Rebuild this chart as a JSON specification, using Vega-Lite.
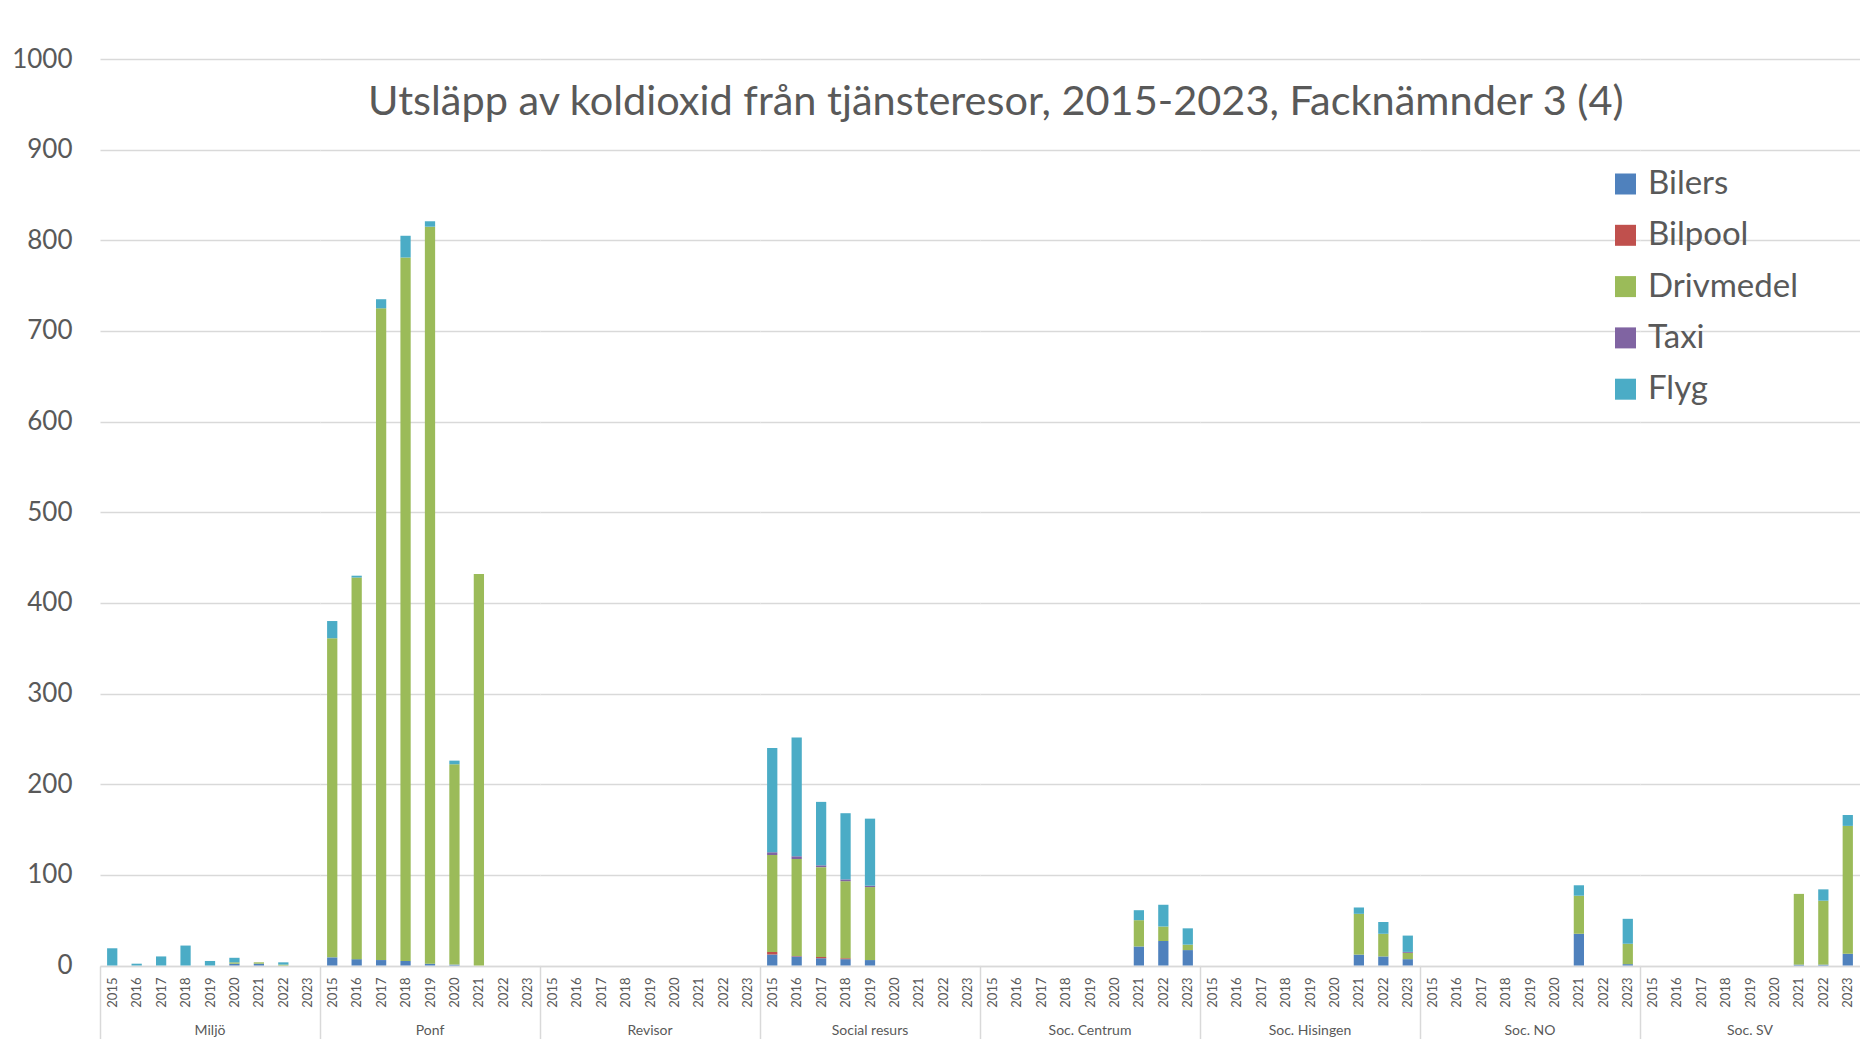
{
  "$schema": "https://vega.github.io/schema/vega-lite/v6.json",
  "padding": {"left": 11, "top": 46, "right": 0, "bottom": 0},
  "background": "white",
  "title": {"text": "Utsläpp av koldioxid från tjänsteresor, 2015-2023, Facknämnder 3 (4)", "fontSize": 41.5, "font": "Lato", "fontWeight": "normal", "color": "#595959", "anchor": "middle", "offset": -77, "dx": 60},
  "datasets": {
    "typer": [
      {"typ": "Bilers", "rank": 1},
      {"typ": "Bilpool", "rank": 2},
      {"typ": "Drivmedel", "rank": 3},
      {"typ": "Taxi", "rank": 4},
      {"typ": "Flyg", "rank": 5}
    ],
    "utslapp": [
      {"g": "Miljö", "y": "2015", "Bilers": 0, "Bilpool": 0, "Drivmedel": 0, "Taxi": 0, "Flyg": 19},
      {"g": "Miljö", "y": "2016", "Bilers": 0, "Bilpool": 0, "Drivmedel": 0, "Taxi": 0, "Flyg": 2},
      {"g": "Miljö", "y": "2017", "Bilers": 0, "Bilpool": 0, "Drivmedel": 0, "Taxi": 0, "Flyg": 10},
      {"g": "Miljö", "y": "2018", "Bilers": 0, "Bilpool": 0, "Drivmedel": 0, "Taxi": 0, "Flyg": 22},
      {"g": "Miljö", "y": "2019", "Bilers": 0, "Bilpool": 0, "Drivmedel": 0, "Taxi": 0, "Flyg": 5},
      {"g": "Miljö", "y": "2020", "Bilers": 2, "Bilpool": 0, "Drivmedel": 1.5, "Taxi": 0, "Flyg": 5},
      {"g": "Miljö", "y": "2021", "Bilers": 2, "Bilpool": 0, "Drivmedel": 1.5, "Taxi": 0, "Flyg": 0},
      {"g": "Miljö", "y": "2022", "Bilers": 0, "Bilpool": 0, "Drivmedel": 1, "Taxi": 0, "Flyg": 2.5},
      {"g": "Ponf", "y": "2015", "Bilers": 9, "Bilpool": 0, "Drivmedel": 352, "Taxi": 0, "Flyg": 19},
      {"g": "Ponf", "y": "2016", "Bilers": 7, "Bilpool": 0, "Drivmedel": 421, "Taxi": 0, "Flyg": 2},
      {"g": "Ponf", "y": "2017", "Bilers": 6, "Bilpool": 0, "Drivmedel": 719, "Taxi": 0, "Flyg": 10},
      {"g": "Ponf", "y": "2018", "Bilers": 5, "Bilpool": 0, "Drivmedel": 776, "Taxi": 0, "Flyg": 24},
      {"g": "Ponf", "y": "2019", "Bilers": 2, "Bilpool": 0, "Drivmedel": 813, "Taxi": 0, "Flyg": 6},
      {"g": "Ponf", "y": "2020", "Bilers": 1, "Bilpool": 0, "Drivmedel": 221, "Taxi": 0, "Flyg": 4},
      {"g": "Ponf", "y": "2021", "Bilers": 0, "Bilpool": 0, "Drivmedel": 432, "Taxi": 0, "Flyg": 0},
      {"g": "Revisor", "y": "2015", "Bilers": 0, "Bilpool": 0, "Drivmedel": 0, "Taxi": 0, "Flyg": 0},
      {"g": "Social resurs", "y": "2015", "Bilers": 12, "Bilpool": 3, "Drivmedel": 107, "Taxi": 3, "Flyg": 115},
      {"g": "Social resurs", "y": "2016", "Bilers": 10, "Bilpool": 0.5, "Drivmedel": 107, "Taxi": 3, "Flyg": 131},
      {"g": "Social resurs", "y": "2017", "Bilers": 8, "Bilpool": 1.5, "Drivmedel": 99, "Taxi": 2, "Flyg": 70},
      {"g": "Social resurs", "y": "2018", "Bilers": 7, "Bilpool": 1, "Drivmedel": 85, "Taxi": 2, "Flyg": 73},
      {"g": "Social resurs", "y": "2019", "Bilers": 6, "Bilpool": 0, "Drivmedel": 80.5, "Taxi": 1.5, "Flyg": 74},
      {"g": "Soc. Centrum", "y": "2021", "Bilers": 21, "Bilpool": 0, "Drivmedel": 29, "Taxi": 0, "Flyg": 11},
      {"g": "Soc. Centrum", "y": "2022", "Bilers": 27, "Bilpool": 0, "Drivmedel": 16, "Taxi": 0, "Flyg": 24},
      {"g": "Soc. Centrum", "y": "2023", "Bilers": 17, "Bilpool": 0, "Drivmedel": 6, "Taxi": 0, "Flyg": 18},
      {"g": "Soc. Hisingen", "y": "2021", "Bilers": 12, "Bilpool": 0, "Drivmedel": 45, "Taxi": 0, "Flyg": 7},
      {"g": "Soc. Hisingen", "y": "2022", "Bilers": 10, "Bilpool": 0, "Drivmedel": 25, "Taxi": 0, "Flyg": 13},
      {"g": "Soc. Hisingen", "y": "2023", "Bilers": 7, "Bilpool": 0, "Drivmedel": 7, "Taxi": 1, "Flyg": 18},
      {"g": "Soc. NO", "y": "2021", "Bilers": 35, "Bilpool": 0, "Drivmedel": 42, "Taxi": 0, "Flyg": 11.5},
      {"g": "Soc. NO", "y": "2023", "Bilers": 1.5, "Bilpool": 0, "Drivmedel": 22.5, "Taxi": 0, "Flyg": 27.5},
      {"g": "Soc. SV", "y": "2021", "Bilers": 1, "Bilpool": 0, "Drivmedel": 78, "Taxi": 0, "Flyg": 0},
      {"g": "Soc. SV", "y": "2022", "Bilers": 1, "Bilpool": 0, "Drivmedel": 70.5, "Taxi": 0, "Flyg": 12.5},
      {"g": "Soc. SV", "y": "2023", "Bilers": 13, "Bilpool": 0, "Drivmedel": 141, "Taxi": 0, "Flyg": 12}
    ]
  },
  "data": {"name": "utslapp"},
  "transform": [
    {"fold": ["Bilers", "Bilpool", "Drivmedel", "Taxi", "Flyg"], "as": ["typ", "v"]},
    {"lookup": "typ", "from": {"data": {"name": "typer"}, "key": "typ", "fields": ["rank"]}}
  ],
  "spacing": 0,
  "facet": {
    "column": {
      "field": "g",
      "type": "nominal",
      "sort": ["Miljö", "Ponf", "Revisor", "Social resurs", "Soc. Centrum", "Soc. Hisingen", "Soc. NO", "Soc. SV"],
      "header": {"title": null, "labelOrient": "bottom", "labelFontSize": 14, "labelFont": "Lato", "labelColor": "#595959", "labelPadding": -16}
    }
  },
  "spec": {
    "width": 220,
    "height": 906.5,
    "mark": {"type": "bar"},
    "encoding": {
      "x": {
        "field": "y",
        "type": "ordinal",
        "scale": {"domain": ["2015", "2016", "2017", "2018", "2019", "2020", "2021", "2022", "2023"], "paddingInner": 0.58, "paddingOuter": 0.29},
        "axis": {
          "title": null,
          "labelAngle": -90,
          "labelFontSize": 13,
          "labelFont": "Lato",
          "labelColor": "#595959",
          "bandPosition": 0,
          "tickOffset": -7.1,
          "labelOffset": 7.1,
          "tickSize": 73,
          "tickColor": "#d9d9d9",
          "tickWidth": 1.5,
          "tickOpacity": {"condition": {"test": "datum.value == '2015'", "value": 1}, "value": 0},
          "labelPadding": -62,
          "domainColor": "#d9d9d9",
          "domainWidth": 1.5,
          "grid": false
        }
      },
      "y": {
        "field": "v",
        "type": "quantitative",
        "stack": "zero",
        "scale": {"domain": [0, 1000], "nice": false},
        "axis": {
          "title": null,
          "format": "d",
          "values": [0, 100, 200, 300, 400, 500, 600, 700, 800, 900, 1000],
          "labelFontSize": 26,
          "labelFont": "Lato",
          "labelColor": "#595959",
          "labelPadding": 28,
          "ticks": false,
          "domain": false,
          "gridColor": "#d9d9d9",
          "gridWidth": 1.5
        }
      },
      "color": {
        "field": "typ",
        "type": "nominal",
        "scale": {"domain": ["Bilers", "Bilpool", "Drivmedel", "Taxi", "Flyg"], "range": ["#4F81BD", "#C0504D", "#9BBB59", "#8064A2", "#4BACC6"]},
        "legend": {
          "title": null,
          "orient": "none",
          "legendX": 1509,
          "legendY": 108.5,
          "symbolType": "square",
          "symbolSize": 441,
          "symbolStrokeWidth": 0,
          "labelFontSize": 33,
          "labelFont": "Lato",
          "labelColor": "#595959",
          "labelOffset": 6,
          "rowPadding": 17.3
        }
      },
      "order": {"field": "rank", "type": "quantitative", "sort": "ascending"}
    }
  },
  "config": {
    "view": {"stroke": null},
    "font": "Lato"
  }
}
